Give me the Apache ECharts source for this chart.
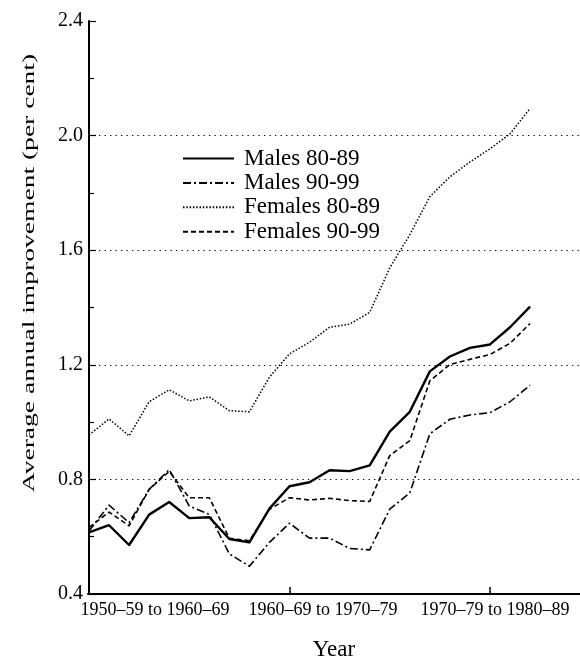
<!DOCTYPE html>
<html>
<head>
<meta charset="utf-8">
<script src="https://cdn.jsdelivr.net/npm/echarts@6/dist/echarts.min.js"></script>
<style>
  html, body { margin: 0; padding: 0; background: #fff; }
  #main { width: 580px; height: 666px; }
</style>
</head>
<body>
<div id="main"></div>
<script>
// 数据：每条折线 23 个点
const seriesNames = ['Males 80-89', 'Males 90-99', 'Females 80-89', 'Females 90-99'];
const males80 = [0.615, 0.640, 0.571, 0.677, 0.721, 0.665, 0.668, 0.592, 0.580, 0.698, 0.776, 0.790,
                 0.832, 0.829, 0.849, 0.967, 1.036, 1.177, 1.229, 1.259, 1.271, 1.331, 1.403];
const males90 = [0.620, 0.710, 0.649, 0.765, 0.834, 0.707, 0.678, 0.540, 0.497, 0.580, 0.647, 0.595,
                 0.595, 0.559, 0.554, 0.696, 0.753, 0.959, 1.010, 1.025, 1.033, 1.071, 1.129];
const females80 = [0.955, 1.011, 0.952, 1.071, 1.113, 1.074, 1.088, 1.040, 1.036, 1.157, 1.238, 1.279,
                   1.331, 1.342, 1.383, 1.538, 1.654, 1.787, 1.856, 1.908, 1.954, 2.006, 2.095];
const females90 = [0.632, 0.686, 0.638, 0.765, 0.828, 0.736, 0.736, 0.594, 0.586, 0.696, 0.736, 0.728,
                   0.734, 0.726, 0.723, 0.883, 0.935, 1.144, 1.201, 1.219, 1.236, 1.275, 1.344];
// x 轴标签及位置（标签并不正对刻度）
const xLabels = ['1950\u201359 to 1960\u201369', '1960\u201369 to 1970\u201379', '1970\u201379 to 1980\u201389'];
const xLabelPos = [3.29, 11.67, 20.25];
const xTickPos = [10, 20];

const serif = 'Liberation Serif';
const toPairs = arr => arr.map((v, i) => [i, v]);

function lineSeries(name, data, width, type) {
    return {
        name: name,
        type: 'line',
        data: toPairs(data),
        symbol: 'none',
        animation: false,
        itemStyle: { color: '#000' },
        lineStyle: { color: '#000', width: width, type: type, join: 'round' }
    };
}

const myChart = echarts.init(document.getElementById('main'));
const option = {
    backgroundColor: '#fff',
    animation: false,
    grid: { left: 88, right: 0, top: 21, bottom: 68 },
    legend: {
        orient: 'vertical',
        left: 182,
        top: 147,
        padding: 0,
        itemGap: 1.4,
        itemWidth: 51,
        itemHeight: 14,
        data: seriesNames,
        itemStyle: { opacity: 0, borderWidth: 0 },
        textStyle: { fontFamily: serif, fontSize: 23, lineHeight: 23, color: '#000', padding: [0, 0, 0, 5] }
    },
    xAxis: {
        type: 'value',
        min: -0.05,
        max: 24.49,
        name: 'Year',
        nameLocation: 'middle',
        nameGap: 44,
        nameTextStyle: { fontFamily: serif, fontSize: 23, color: '#000' },
        axisLine: { lineStyle: { color: '#000', width: 2 } },
        axisTick: { inside: true, length: 7, customValues: xTickPos, lineStyle: { color: '#000', width: 1.5 } },
        axisLabel: {
            customValues: xLabelPos,
            margin: 7,
            fontFamily: serif,
            fontSize: 18,
            color: '#000',
            formatter: function (v) {
                let k = xLabelPos.findIndex(p => Math.abs(p - v) < 0.01);
                return k >= 0 ? xLabels[k] : '';
            }
        },
        splitLine: { show: false }
    },
    yAxis: {
        type: 'value',
        min: 0.4,
        max: 2.4,
        interval: 0.4,
        axisLine: { show: true, lineStyle: { color: '#000', width: 2 } },
        axisTick: { show: true, inside: true, length: 7, lineStyle: { color: '#000', width: 1.2 } },
        minorTick: { show: true, splitNumber: 2, length: 5, lineStyle: { color: '#000', width: 1.2 } },
        axisLabel: {
            margin: 5,
            fontFamily: serif,
            fontSize: 20,
            color: '#000',
            formatter: v => v.toFixed(1)
        },
        splitLine: {
            show: true,
            showMinLine: false,
            showMaxLine: false,
            lineStyle: { color: '#000', width: 1.2, type: [1.3, 4.2] }
        }
    },
    graphic: [{
        type: 'text',
        x: 30,
        y: 273,
        rotation: Math.PI / 2,
        scaleX: 1.62,
        style: {
            text: 'Average annual improvement (per cent)',
            font: '17px "Liberation Serif"',
            fill: '#000',
            align: 'center',
            verticalAlign: 'middle'
        }
    }],
    series: [
        lineSeries(seriesNames[0], males80, 2.4, 'solid'),
        lineSeries(seriesNames[1], males90, 1.6, [8, 3, 2, 3]),
        lineSeries(seriesNames[2], females80, 1.5, [1.5, 1.8]),
        lineSeries(seriesNames[3], females90, 1.6, [5, 3])
    ]
};
myChart.setOption(option);
</script>
</body>
</html>
